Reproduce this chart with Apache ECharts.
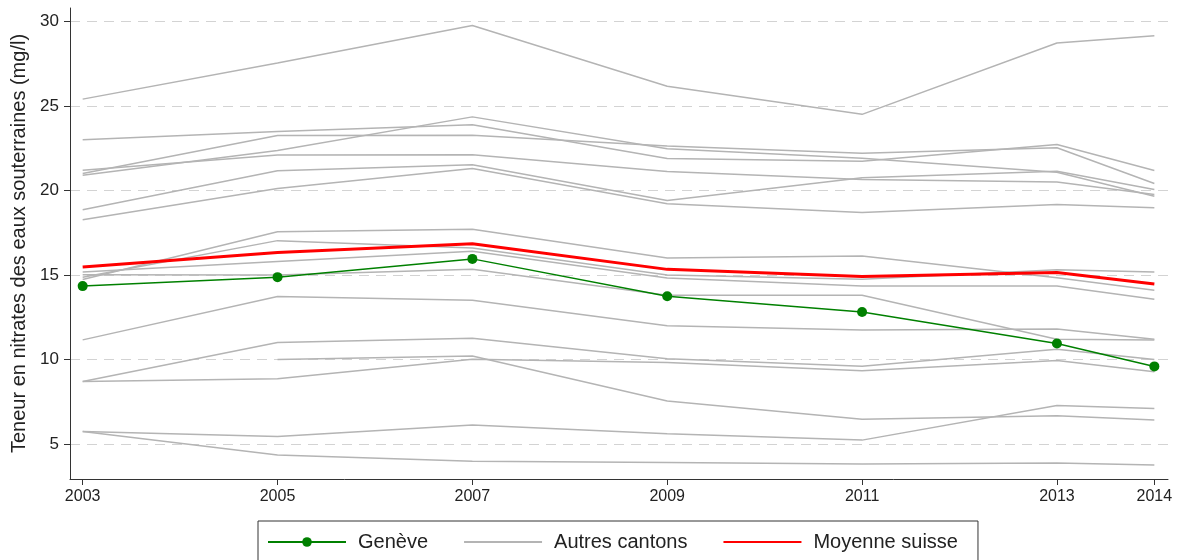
<!DOCTYPE html>
<html>
<head>
<meta charset="utf-8">
<script src="https://cdn.jsdelivr.net/npm/echarts@6/dist/echarts.min.js"></script>
<style>
  html, body { margin: 0; padding: 0; background: #fff; }
  #chart { width: 1181px; height: 560px; }
</style>
</head>
<body>
<div id="chart"></div>
<script>
// années et ticks de l'axe x
var years = [2003, 2005, 2007, 2009, 2011, 2013, 2014];
var yTicks = [5, 10, 15, 20, 25, 30];

// Genève et moyenne suisse (mg/l)
var geneve = [14.34, 14.87, 15.95, 13.74, 12.81, 10.95, 9.59];
var moyenneSuisse = [15.47, 16.33, 16.85, 15.33, 14.91, 15.15, 14.47];

// autres cantons, une ligne par canton
var autresCantons = [
  [25.4, 27.54, 29.75, 26.16, 24.5, 28.72, 29.15],
  [23.0, 23.48, 23.88, 21.89, 21.73, 22.72, 21.18],
  [21.0, 23.25, 23.27, 22.62, 22.2, 22.52, 20.41],
  [20.9, 22.36, 24.35, 22.46, 21.9, 21.08, 19.66],
  [21.2, 22.09, 22.11, 21.12, 20.65, 20.5, 19.76],
  [18.86, 21.16, 21.52, 19.41, 20.75, 21.14, 20.06],
  [18.27, 20.12, 21.3, 19.21, 18.7, 19.17, 18.98],
  [14.73, 17.55, 17.7, 16.0, 16.12, 14.84, 14.1],
  [14.87, 17.03, 16.6, 15.0, 14.74, 15.3, 15.18],
  [15.17, 15.8, 16.4, 14.82, 14.35, 14.35, 13.56],
  [15.01, 15.0, 15.33, 13.8, 13.8, 11.2, 11.15],
  [11.16, 13.72, 13.5, 12.0, 11.75, 11.8, 11.2],
  [8.7, 11.0, 11.26, 10.04, 9.6, 10.6, 10.0],
  [null, 10.0, 10.21, 7.55, 6.47, 6.67, 6.42],
  [8.7, 8.86, 10.02, 9.82, 9.33, 9.94, 9.27],
  [5.74, 5.45, 6.12, 5.6, 5.23, 7.28, 7.1],
  [5.74, 4.35, 3.98, 3.9, 3.82, 3.87, 3.76]
];

function pairs(vals) {
  return years.map(function (y, i) { return [y, vals[i]]; });
}

var font = "'Liberation Sans', Arial, sans-serif";
var myChart = echarts.init(document.getElementById('chart'));

var series = [];
autresCantons.forEach(function (c) {
  series.push({
    name: 'Autres cantons',
    type: 'line',
    data: pairs(c),
    symbol: 'none',
    lineStyle: { color: '#b4b4b4', width: 1.5 },
    itemStyle: { color: '#b4b4b4', opacity: 0 },   // pas de rond dans la légende
    emphasis: { disabled: true },
    z: 2
  });
});
series.push({
  name: 'Moyenne suisse',
  type: 'line',
  data: pairs(moyenneSuisse),
  symbol: 'none',
  lineStyle: { color: '#ff0000', width: 3 },
  itemStyle: { color: '#ff0000', opacity: 0 },
  z: 3
});
series.push({
  name: 'Genève',
  type: 'line',
  data: pairs(geneve),
  symbol: 'circle',
  symbolSize: 10,
  lineStyle: { color: '#008000', width: 1.5 },
  itemStyle: { color: '#008000' },
  z: 4
});

var option = {
  animation: false,
  backgroundColor: '#fff',
  grid: { left: 70, right: 13, top: 8, bottom: 81 },
  xAxis: {
    type: 'value',
    min: 2002.87,
    max: 2014.14,
    axisLine: { show: true, lineStyle: { color: '#333', width: 1 } },
    axisTick: { show: true, customValues: years, length: 6, lineStyle: { color: '#333' } },
    axisLabel: {
      customValues: years,
      formatter: function (v) { return String(v); },
      color: '#222', fontSize: 16, fontFamily: font, margin: 10
    },
    splitLine: { show: false }
  },
  yAxis: {
    type: 'value',
    min: 2.93,
    max: 30.79,
    name: 'Teneur en nitrates des eaux souterraines (mg/l)',
    nameLocation: 'middle',
    nameGap: 38,
    nameTextStyle: { color: '#222', fontSize: 20, fontFamily: font },
    axisLine: { show: true, lineStyle: { color: '#333', width: 1 } },
    axisTick: { show: true, customValues: yTicks, length: 6, lineStyle: { color: '#333' } },
    axisLabel: { customValues: yTicks, color: '#222', fontSize: 17, fontFamily: font, margin: 11 },
    splitLine: { show: true, lineStyle: { color: '#d3d3d3', width: 1, type: [10, 7] } }
  },
  legend: {
    data: ['Genève', 'Autres cantons', 'Moyenne suisse'],
    left: 258,
    top: 521,
    orient: 'horizontal',
    padding: [11, 20, 11, 9],
    borderColor: '#333',
    borderWidth: 1,
    itemWidth: 78,
    itemHeight: 12,
    itemGap: 35,
    textStyle: { color: '#222', fontSize: 20, fontFamily: font, padding: [0, 0, 0, 7] }
  },
  series: series
};

myChart.setOption(option);
</script>
</body>
</html>
